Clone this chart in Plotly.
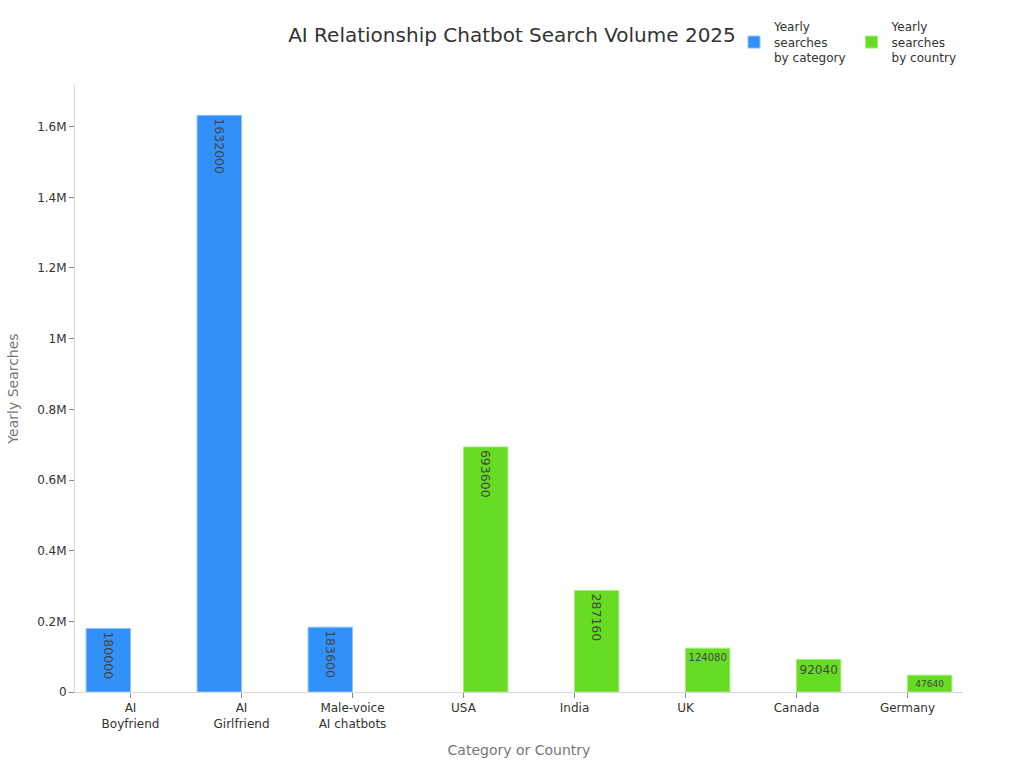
import plotly.graph_objects as go

categories = ["AI<br>Boyfriend", "AI<br>Girlfriend", "Male-voice<br>AI chatbots",
              "USA", "India", "UK", "Canada", "Germany"]
cat_series_x = ["AI<br>Boyfriend", "AI<br>Girlfriend", "Male-voice<br>AI chatbots"]
cat_series_y = [180000, 1632000, 183600]
country_x = ["USA", "India", "UK", "Canada", "Germany"]
country_y = [693600, 287160, 124080, 92040, 47640]

fig = go.Figure()
fig.add_trace(go.Bar(
    x=cat_series_x, y=cat_series_y, name="Yearly<br>searches<br>by category",
    offsetgroup="cat",
    marker=dict(color="#3291F9", line=dict(color="#8EC2FB", width=1)),
    text=[str(v) for v in cat_series_y], textposition="inside",
    textfont=dict(color="#444444", size=12.5),
))
fig.add_trace(go.Bar(
    x=country_x, y=country_y, name="Yearly<br>searches<br>by country",
    offsetgroup="country",
    marker=dict(color="#66DD22", line=dict(color="#A6EC7E", width=1)),
    text=[str(v) for v in country_y], textposition="inside",
    textfont=dict(color="#444444", size=12.5),
))

fig.update_layout(
    template="plotly_white",
    width=1024, height=768,
    font=dict(family="DejaVu Sans", size=12, color="#333333"),
    title=dict(text="AI Relationship Chatbot Search Volume 2025", x=0.5, xanchor="center",
               y=0.955, yanchor="middle", font=dict(size=20, color="#333333")),
    barmode="group", bargap=0.2, bargroupgap=0,
    margin=dict(l=75, r=61, t=85, b=76),
    legend=dict(orientation="h", x=1, xanchor="right", y=1.12, yanchor="top",
                font=dict(size=12, color="#333333")),
    plot_bgcolor="white", paper_bgcolor="white",
)
fig.update_xaxes(categoryorder="array", categoryarray=categories,
                 title=dict(text="Category or Country", font=dict(size=14, color="#777777")),
                 showgrid=False, showline=True, linecolor="#d9d9d9", linewidth=1,
                 ticks="outside", tickcolor="#888888", ticklen=5)
fig.update_yaxes(title=dict(text="Yearly Searches", font=dict(size=14, color="#777777")),
                 showgrid=False, showline=True, linecolor="#d9d9d9", linewidth=1,
                 ticks="outside", tickcolor="#888888", ticklen=5, zeroline=False,
                 exponentformat="SI")

fig.write_html("out.html")
